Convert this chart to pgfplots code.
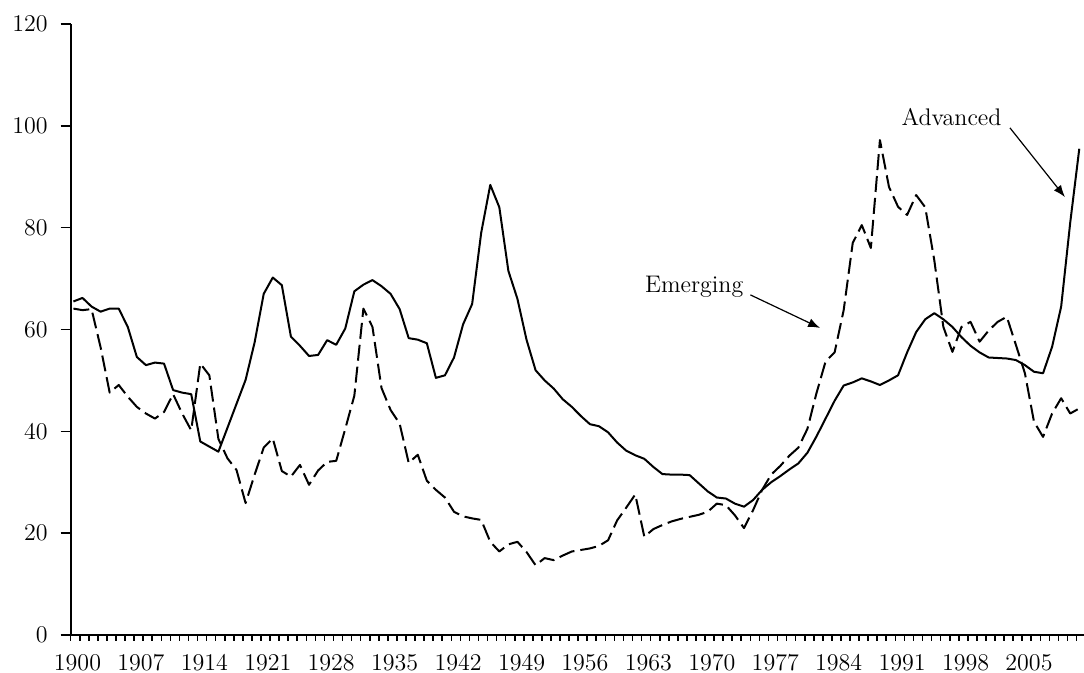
\documentclass[border=0pt]{standalone}
\usepackage{pgfplots}
\pgfplotsset{compat=1.18}
\usepackage{pgfplotstable}
\usetikzlibrary{arrows.meta}

% public debt, per cent of GDP
\pgfplotstableread{
year val
1900 65.5
1901 66.2
1902 64.5
1903 63.5
1904 64.1
1905 64.1
1906 60.5
1907 54.6
1908 53.0
1909 53.5
1910 53.3
1911 48.1
1912 47.6
1913 47.3
1914 38.0
1915 37.0
1916 36.0
1917 40.7
1918 45.4
1919 50.1
1920 57.5
1921 67.0
1922 70.2
1923 68.7
1924 58.6
1925 56.8
1926 54.8
1927 55.0
1928 57.9
1929 57.0
1930 60.2
1931 67.5
1932 68.8
1933 69.7
1934 68.5
1935 67.0
1936 64.0
1937 58.3
1938 58.0
1939 57.3
1940 50.5
1941 51.0
1942 54.5
1943 61.0
1944 65.0
1945 79.0
1946 88.4
1947 84.0
1948 71.5
1949 66.0
1950 58.0
1951 52.0
1952 50.0
1953 48.4
1954 46.3
1955 44.8
1956 43.0
1957 41.4
1958 41.0
1959 39.8
1960 37.8
1961 36.2
1962 35.3
1963 34.6
1964 33.0
1965 31.6
1966 31.5
1967 31.5
1968 31.4
1969 29.8
1970 28.2
1971 27.0
1972 26.8
1973 25.8
1974 25.2
1975 26.5
1976 28.5
1977 30.0
1978 31.2
1979 32.5
1980 33.7
1981 35.8
1982 39.0
1983 42.5
1984 46.0
1985 49.0
1986 49.6
1987 50.4
1988 49.8
1989 49.1
1990 50.0
1991 51.0
1992 55.5
1993 59.5
1994 62.0
1995 63.2
1996 62.0
1997 60.5
1998 58.5
1999 56.8
2000 55.5
2001 54.5
2002 54.4
2003 54.3
2004 54.0
2005 53.0
2006 51.7
2007 51.4
2008 56.6
2009 64.5
2010 81.0
2011 95.5
}\advanced

\pgfplotstableread{
year val
1900 64.1
1901 63.8
1902 64.0
1903 56.5
1904 47.6
1905 49.1
1906 46.8
1907 44.8
1908 43.5
1909 42.5
1910 43.8
1911 47.3
1912 43.5
1913 40.2
1914 53.3
1915 51.0
1916 38.5
1917 34.7
1918 32.4
1919 25.9
1920 31.5
1921 36.8
1922 38.6
1923 32.2
1924 31.1
1925 33.4
1926 29.5
1927 32.3
1928 34.0
1929 34.2
1930 40.5
1931 47.0
1932 64.1
1933 60.5
1934 48.5
1935 44.2
1936 41.5
1937 33.8
1938 35.4
1939 30.3
1940 28.5
1941 27.0
1942 24.2
1943 23.3
1944 22.9
1945 22.6
1946 18.3
1947 16.4
1948 17.8
1949 18.3
1950 16.3
1951 13.7
1952 15.1
1953 14.7
1954 15.6
1955 16.4
1956 16.7
1957 17.0
1958 17.5
1959 18.6
1960 22.5
1961 25.0
1962 27.6
1963 19.3
1964 20.8
1965 21.6
1966 22.3
1967 22.8
1968 23.2
1969 23.6
1970 24.2
1971 25.8
1972 25.5
1973 23.5
1974 21.0
1975 24.5
1976 28.5
1977 31.5
1978 33.2
1979 35.2
1980 36.8
1981 40.5
1982 47.5
1983 53.7
1984 55.5
1985 63.8
1986 77.0
1987 80.5
1988 76.0
1989 97.2
1990 88.0
1991 84.1
1992 82.5
1993 86.4
1994 84.0
1995 73.6
1996 60.5
1997 55.6
1998 60.5
1999 61.5
2000 57.6
2001 59.8
2002 61.5
2003 62.5
2004 57.0
2005 51.4
2006 41.9
2007 38.9
2008 43.5
2009 46.5
2010 43.5
2011 44.5
}\emerging

\begin{document}
\begin{tikzpicture}
\useasboundingbox (0,0) rectangle (542pt,336.5pt);
\begin{axis}[
  at={(35.35pt,19pt)}, anchor=south west,
  scale only axis, width=506.65pt, height=305.5pt,
  xmin=1899.7, xmax=2011.52, ymin=0, ymax=120,
  axis lines=left,
  axis line style={line width=1pt, -},
  tick align=outside,
  major tick length=5pt, minor tick length=3pt,
  tick style={line width=0.8pt, black},
  ytick={0,20,...,120},
  xtick={1900.45,1907.45,...,2005.45},
  xticklabels={1900,1907,1914,1921,1928,1935,1942,1949,1956,1963,1970,1977,1984,1991,1998,2005},
  major x tick style={draw=none},
  minor xtick={1899.7,1900.7,...,2010.7},
  ticklabel style={font=\fontsize{12}{14}\selectfont},
  yticklabel style={xshift=-3pt},
  xticklabel style={yshift=-1pt},
  clip=false,
]
\addplot[black, line width=1pt, line join=round] table[x=year, y=val] {\advanced};
\addplot[black, line width=1pt, line join=round, dash pattern=on 8pt off 3pt] table[x=year, y=val] {\emerging};

\node[font=\fontsize{12}{14}\selectfont] at (axis cs:1996.9,101.8) {Advanced};
\draw[line width=0.6pt, -{Latex[length=6pt,width=4.5pt]}] (axis cs:2003.35,99.6) -- (axis cs:2009.42,86.0);
\node[font=\fontsize{12}{14}\selectfont] at (axis cs:1968.5,68.4) {Emerging};
\draw[line width=0.6pt, -{Latex[length=6pt,width=4.5pt]}] (axis cs:1974.7,66.8) -- (axis cs:1982.4,60.3);
\end{axis}
\end{tikzpicture}
\end{document}
